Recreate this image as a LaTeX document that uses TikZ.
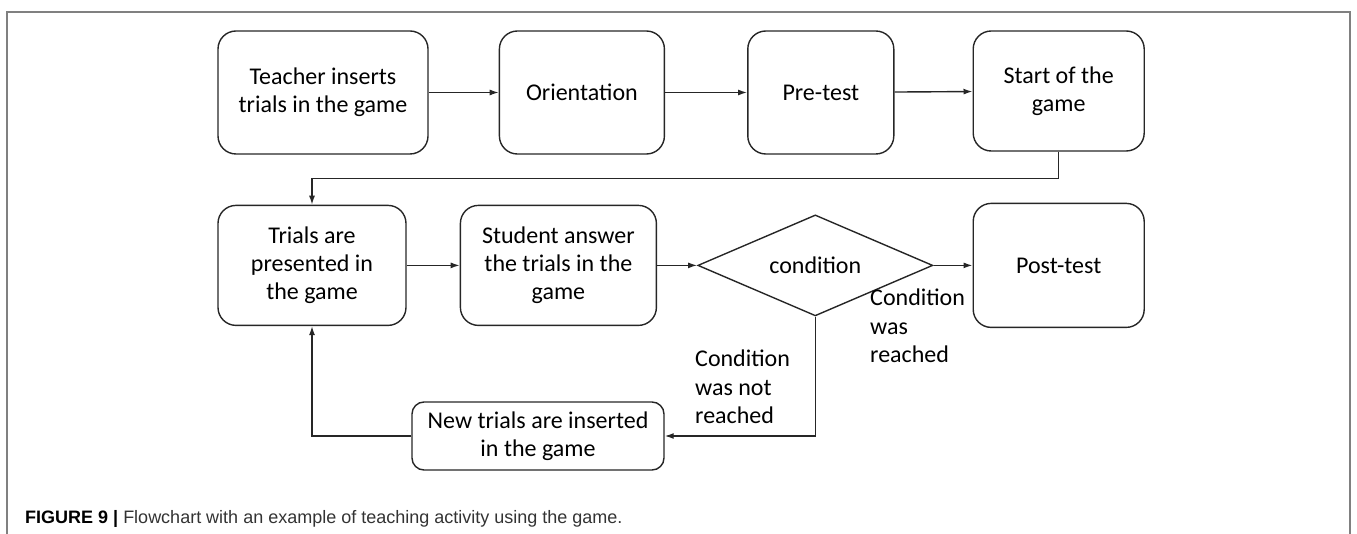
\documentclass[tikz,border=0pt]{standalone}
\usepackage{fontspec}
\setmainfont{Carlito}
\newfontfamily\capfont{Liberation Sans}
\usetikzlibrary{positioning,shapes.geometric,arrows.meta}

\tikzset{
  box/.style={draw=black!85, line width=1.4pt, rounded corners=18pt, align=center,
    inner sep=0pt, font=\fontsize{24}{28}\selectfont},
  cond/.style={diamond, aspect=2.3, draw=black!85, line width=1.4pt, inner sep=0pt,
    minimum width=235pt, minimum height=101pt, font=\fontsize{24}{28}\selectfont},
  lbl/.style={align=left, inner sep=0pt, font=\fontsize{24}{28.5}\selectfont},
  arr/.style={-{Latex[length=9pt,width=6pt]}, line width=1.4pt, draw=black!85},
}

\begin{document}
\begin{tikzpicture}[x=1pt,y=-1pt]
	\useasboundingbox (0,0) rectangle (1357,534);
	\draw[black!50, line width=1.5pt] (7,534) -- (7,12) -- (1350,12) -- (1350,534);

	\node[box,minimum width=210pt,minimum height=123pt]								(0)		at (323,92.5) {Teacher inserts\\trials in the game};
	\node[box,minimum width=165pt,minimum height=123pt,node distance=70pt,right=of 0]	(1)		{Orientation};
	\node[box,minimum width=146pt,minimum height=123pt,node distance=82pt,right=of 1]	(2)		{Pre-test};
	\node[box,minimum width=171pt,minimum height=120pt,node distance=78pt,right=of 2,yshift=1.5pt]	(3)	{Start of the\\game};

	\node[box,minimum width=188pt,minimum height=120pt,node distance=50pt,below=of 0.south west,anchor=north west]	(10)	{Trials are\\presented in\\the game};
	\node[box,minimum width=196pt,minimum height=120pt,node distance=53pt,right=of 10]	(11)	{Student answer\\the trials in the\\game};
	\node[cond,node distance=40pt,right=of 11]											(12)	{condition};
	\node[box,minimum width=171pt,minimum height=124pt,node distance=39pt,right=of 12]	(13)	{Post-test};
	\node[box,rounded corners=12pt,minimum width=252pt,minimum height=68pt]				(20)	at (538,436) {New trials are inserted\\in the game};

	\node[lbl,anchor=north west]	(yes)	at (870,289) {Condition\\was\\reached};
	\node[lbl,anchor=north west]	(no)	at (695,350) {Condition\\was not\\reached};

	\draw[arr]	(0)	--	(1);
	\draw[arr]	(1)	--	(2);
	\draw[arr]	(2)	--	(3);
	\draw[arr]	(3.south)	--	++(0,27)	-|	(10.north);
	\draw[arr]	(10)	--	(11);
	\draw[arr]	(11)	--	(12);
	\draw[arr]	(12)	--	(13);
	\draw[arr]	(12.south)	|-	(20.east);
	\draw[arr]	(20.west)	-|	(10.south);

	\node[anchor=base west,inner sep=0pt,font=\capfont\fontsize{18}{21}\selectfont,text=black!80]	(cap)	at (25,523)
		{\textbf{\color{black}FIGURE 9 |} Flowchart with an example of teaching activity using the game.};
\end{tikzpicture}
\end{document}
